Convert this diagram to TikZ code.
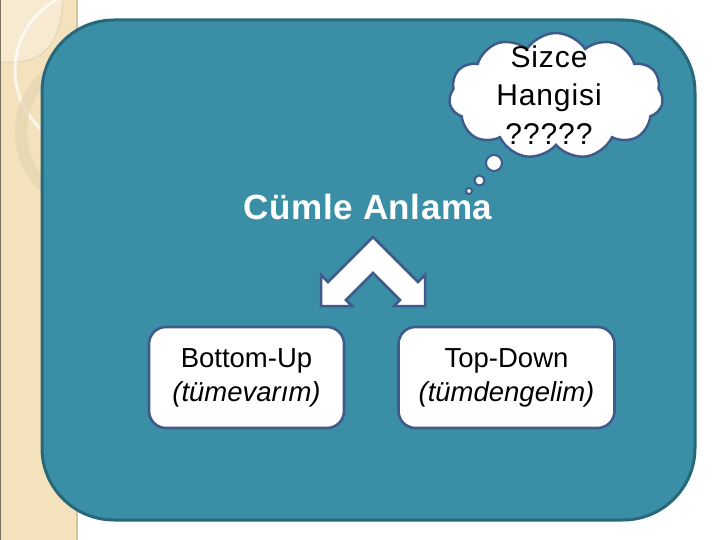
\documentclass[tikz,border=0pt]{standalone}
\usepackage{fontspec}
\setmainfont{Liberation Sans}
\newfontfamily\spacedfont[LetterSpace=3]{Liberation Sans}
\newfontfamily\titlefont[LetterSpace=1.5]{Liberation Sans}
\usetikzlibrary{shapes.symbols}
\definecolor{mainteal}{HTML}{3A8FA7}
\definecolor{tealborder}{HTML}{27687B}
\definecolor{beige}{HTML}{F3E2BC}
\definecolor{beigedark}{HTML}{D5C4A0}
\definecolor{ringbeige}{HTML}{E6D6B3}
\definecolor{shapeblue}{HTML}{3F5B8B}
\tikzset{
  choicebox/.style={draw=shapeblue, line width=2.6pt, fill=white, rounded corners=17pt,
    minimum width=195pt, minimum height=101pt, align=center, inner sep=0pt,
    font=\fontsize{27.5}{34}\selectfont},
  bubble/.style={circle, draw=shapeblue, line width=2pt, fill=white, inner sep=0pt},
}
\begin{document}
\begin{tikzpicture}[x=1pt,y=-1pt]
\useasboundingbox (0,0) rectangle (720,540);
\fill[white] (0,0) rectangle (720,540);
% left strip
\fill[beige] (0,0) rectangle (78,540);
\fill[white,opacity=0.3] (0,0) -- (63,0) .. controls (60,48) and (40,62) .. (13,62) -- (0,62) -- cycle;
\draw[beigedark!80!black,opacity=0.35,line width=0.6pt] (63,0) .. controls (60,48) and (40,62) .. (13,62) -- (0,62);
\begin{scope}
\clip (0,0) rectangle (78,540);
\draw[white,opacity=0.7,line width=3pt] (95,70) circle[radius=80];
\fill[ringbeige,opacity=0.8,even odd rule] (97,132) circle[radius=82] (97,132) circle[radius=70];
\end{scope}
\draw[beigedark,line width=2pt] (77,0) -- (77,540);
\draw[black!50!beige,line width=1.2pt] (0.6,0) -- (0.6,540);
% main panel
\draw[fill=mainteal, draw=tealborder, line width=3pt, rounded corners=72pt] (42,20) rectangle (695,520);
% thought cloud
\node[cloud, cloud puffs=11, cloud puff arc=115, aspect=1.7, draw=shapeblue, line width=2.5pt,
  fill=white, minimum width=214pt, minimum height=126pt, inner sep=0pt] (cloud) at (556,96) {};
\node[bubble, minimum size=16pt] (b1) at (494,163) {};
\node[bubble, minimum size=10pt] (b2) at (479.5,180.5) {};
\node[bubble, minimum size=6pt] (b3) at (469,191) {};
\node[align=center, font=\spacedfont\fontsize{30}{38.5}\selectfont, inner sep=0pt] (q) at (549,95) {Sizce\\Hangisi\\?????};
% title
\node[font=\titlefont\bfseries\fontsize{35}{40}\selectfont, text=white, inner sep=0pt] (title) at (368,207) {Cümle Anlama};
% double arrow
\draw[draw=shapeblue, line width=2.5pt, fill=white, line join=miter]
  (373,237) -- (418,282) -- (425,275) -- (425,306) -- (394,306) -- (400,300) -- (373,273)
  -- (346,300) -- (352,306) -- (321,306) -- (321,275) -- (328,282) -- cycle;
\coordinate (arrowtop) at (373,237);
% boxes
\node[choicebox] (bu) at (246.5,377.5) {Bottom-Up\\\textit{(tümevarım)}};
\node[choicebox, minimum width=216pt] (td) at (506.5,377.5) {Top-Down\\\textit{(tümdengelim)}};
\end{tikzpicture}
\end{document}
